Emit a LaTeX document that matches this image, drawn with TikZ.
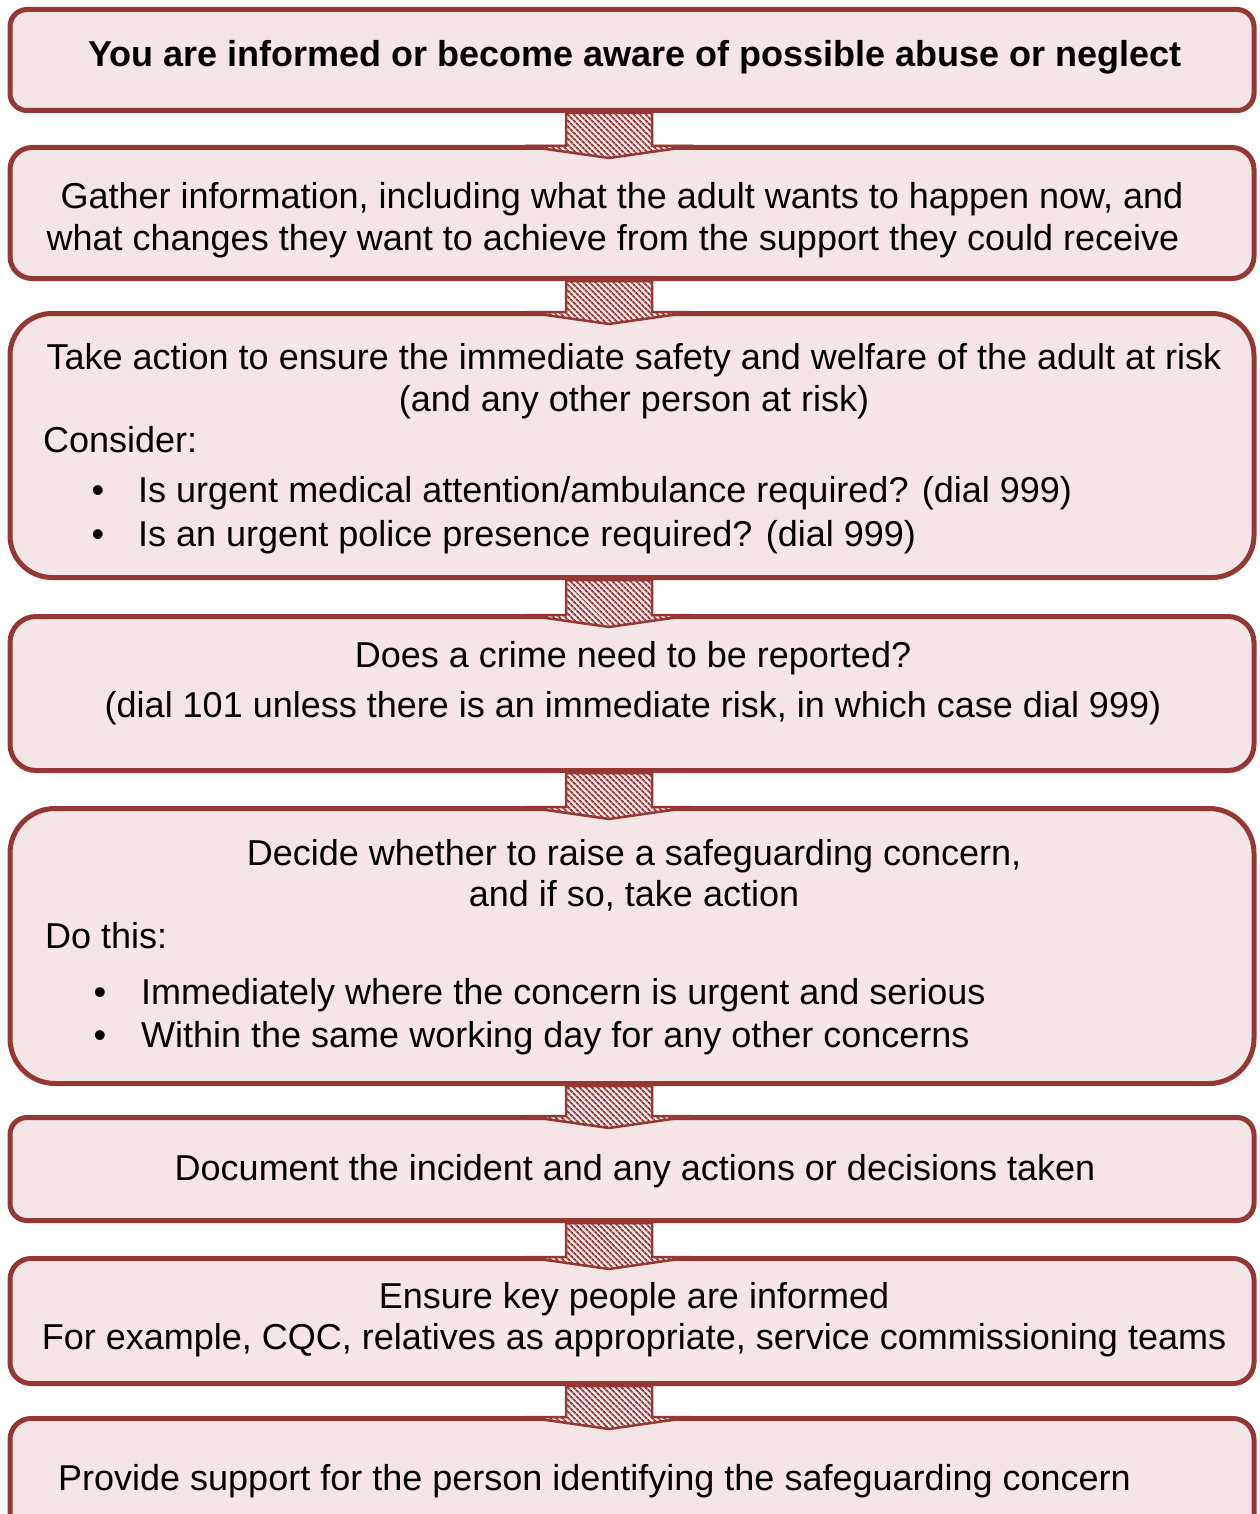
\documentclass[tikz,border=0pt]{standalone}
\usepackage{fontspec}
\setmainfont{Liberation Sans}
\usetikzlibrary{patterns.meta,calc}
\definecolor{bord}{RGB}{149,55,53}
\definecolor{boxfill}{RGB}{244,229,230}
\begin{document}
\begin{tikzpicture}[x=1pt,y=-1pt,
  box/.style={draw=bord, line width=5pt, fill=boxfill, minimum width=1244pt, inner sep=0pt, anchor=north},
  txt/.style={font=\fontsize{36}{42}\selectfont, inner sep=0pt, anchor=base},
  ltxt/.style={txt, anchor=base west},
  flow/.style={draw=bord, line width=2.5pt, line join=miter, fill=boxfill,
    postaction={pattern={Lines[angle=-45,distance=4pt,line width=1.9pt]}, pattern color=bord}}]
\path[use as bounding box, clip] (0,0) rectangle (1259,1514);

% boxes
\node[box, rounded corners=17pt, minimum height=101pt] (b1) at (632,7) {};
\node[box, rounded corners=22pt, minimum height=131pt] (b2) at (632,145) {};
\node[box, rounded corners=42pt, minimum height=264pt] (b3) at (632,311) {};
\node[box, rounded corners=26pt, minimum height=154pt] (b4) at (632,614) {};
\node[box, rounded corners=45pt, minimum height=275pt] (b5) at (632,806) {};
\node[box, rounded corners=17pt, minimum height=103pt] (b6) at (632,1115) {};
\node[box, rounded corners=21pt, minimum height=125pt] (b7) at (632,1256) {};
\node[box, rounded corners=21pt, minimum height=160pt] (b8) at (632,1416) {};

% arrows
\foreach \a/\b in {b1/b2,b2/b3,b3/b4,b4/b5,b5/b6,b6/b7,b7/b8}{
  \draw[flow] ($(\a.south)+(-66,0)$) -- ($(\a.south)+(20,0)$) -- ($(\b.north)+(20,1)$)
    -- ($(\b.north)+(61,1)$) -- ($(\b.north)+(-23,13)$) -- ($(\b.north)+(-107,1)$)
    -- ($(\b.north)+(-66,1)$) -- cycle;
}

% texts
\node[txt, font=\fontsize{36}{42}\selectfont\bfseries] (t1) at (635,67) {You are informed or become aware of possible abuse or neglect};

\node[txt] (t2a) at (622,209) {Gather information, including what the adult wants to happen now, and};
\node[txt] (t2b) at (613,251) {what changes they want to achieve from the support they could receive};

\node[txt] (t3a) at (634,369) {Take action to ensure the immediate safety and welfare of the adult at risk};
\node[txt] (t3b) at (634,411) {(and any other person at risk)};
\node[ltxt] (t3c) at (43,452) {Consider:};
\node[txt] (t3d) at (98,502) {•};
\node[ltxt] (t3e) at (138,502) {Is urgent medical attention/ambulance required? (dial 999)};
\node[txt] (t3f) at (98,546) {•};
\node[ltxt] (t3g) at (138,546) {Is an urgent police presence required? (dial 999)};

\node[txt] (t4a) at (633,667) {Does a crime need to be reported?};
\node[txt] (t4b) at (633,717) {(dial 101 unless there is an immediate risk, in which case dial 999)};

\node[txt] (t5a) at (634,865) {Decide whether to raise a safeguarding concern,};
\node[txt] (t5b) at (634,906) {and if so, take action};
\node[ltxt] (t5c) at (45,948) {Do this:};
\node[txt] (t5d) at (100,1004) {•};
\node[ltxt] (t5e) at (141,1004) {Immediately where the concern is urgent and serious};
\node[txt] (t5f) at (100,1047) {•};
\node[ltxt] (t5g) at (141,1047) {Within the same working day for any other concerns};

\node[txt] (t6) at (635,1180) {Document the incident and any actions or decisions taken};

\node[txt] (t7a) at (634,1308) {Ensure key people are informed};
\node[txt] (t7b) at (634,1349) {For example, CQC, relatives as appropriate, service commissioning teams};

\node[ltxt] (t8) at (58,1490) {Provide support for the person identifying the safeguarding concern};
\end{tikzpicture}
\end{document}
